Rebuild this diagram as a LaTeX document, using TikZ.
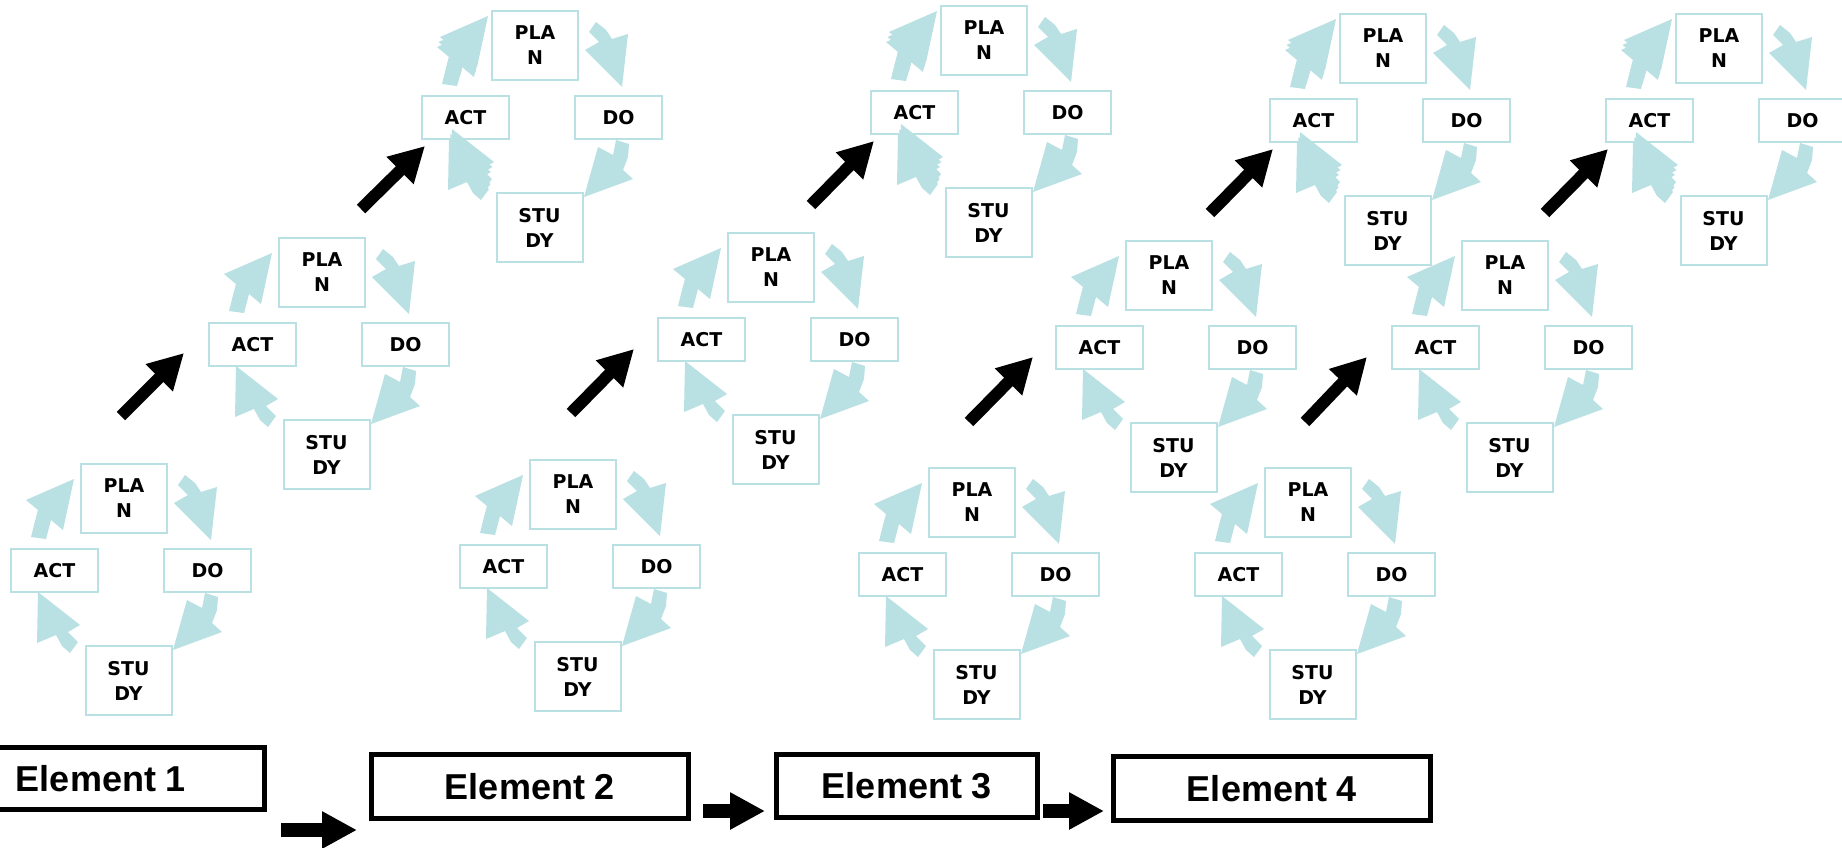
\documentclass[tikz,border=0pt]{standalone}
\usepackage{fontspec}
\setmainfont{DejaVu Sans}
\newfontfamily\elfont{Liberation Sans}
\usetikzlibrary{arrows.meta}
\definecolor{pdsablue}{RGB}{185,224,227}
\tikzset{
  cbox/.style={draw=pdsablue, line width=2pt, fill=white, inner sep=0pt, align=center,
    font=\fontsize{19}{25}\selectfont\bfseries},
  sqbox/.style={cbox, minimum width=86pt, minimum height=69pt},
  flatbox/.style={cbox, minimum width=87pt, minimum height=43pt},
  cyclearrow/.style={fill=pdsablue},
  elbox/.style={draw=black, line width=5pt, inner sep=0pt,
    font=\elfont\fontsize{36}{40}\selectfont\bfseries},
  bigarrow/.style={line width=12pt, -{Triangle[length=35pt,width=36pt]}},
  flatarrow/.style={line width=14pt, -{Triangle[length=35pt,width=35pt]}},
}
\newcommand\tlarrow{\fill[cyclearrow] (-49,74) -- (-45,58) -- (-42,47) -- (-54,37) -- (-6,16) -- (-17,67) -- (-29,57) -- (-34,76) -- cycle;}
\newcommand\trarrow{\fill[cyclearrow] (98,22) -- (105,12) -- (115,20) -- (121,29) -- (137,24) -- (131,77) -- (94,40) -- (108,32) -- cycle;}
\newcommand\brarrow{\fill[cyclearrow] (125,130) -- (138,134) -- (137,147) -- (132,160) -- (142,169) -- (93,187) -- (107,137) -- (122,145) -- cycle;}
\newcommand\blarrow{\fill[cyclearrow] (-10,190) -- (-2,179) -- (-12,169) -- (0,162) -- (-42,129) -- (-43,180) -- (-24,172) -- (-18,183) -- cycle;}
% #1 name, #2 x, #3 y, #4 jagged (0/1)
\newcommand\pdsacycle[4]{%
  \begin{scope}[shift={(#2,#3)}]
    \node[sqbox] (#1p) at (44,35.5) {PLA\\N};
    \node[flatbox] (#1a) at (-25.5,107.5) {ACT};
    \node[flatbox] (#1d) at (127.5,107.5) {DO};
    \node[sqbox] (#1s) at (48.5,217.5) {STU\\DY};
    \tlarrow \trarrow \brarrow \blarrow
    \ifnum#4=1
      \begin{scope}[shift={(1.5,-5)}]\tlarrow\blarrow\end{scope}
      \begin{scope}[shift={(3,-10)}]\tlarrow\blarrow\end{scope}
    \fi
  \end{scope}}
\begin{document}
\begin{tikzpicture}[x=1pt,y=-1pt]
\useasboundingbox (0,0) rectangle (1842,847);
\clip (0,0) rectangle (1842,847);
\fill[white] (0,0) rectangle (1842,847);
% cycles
\pdsacycle{A}{80}{463}{0}
\pdsacycle{B}{278}{237}{0}
\pdsacycle{C}{491}{10}{1}
\pdsacycle{D}{529}{459}{0}
\pdsacycle{E}{727}{232}{0}
\pdsacycle{F}{940}{5}{1}
\pdsacycle{G}{928}{467}{0}
\pdsacycle{H}{1125}{240}{0}
\pdsacycle{I}{1339}{13}{1}
\pdsacycle{J}{1264}{467}{0}
\pdsacycle{K}{1461}{240}{0}
\pdsacycle{L}{1675}{13}{1}
% diagonal arrows
\coordinate (t1) at (121,416); \coordinate (h1) at (184,353);
\coordinate (t2) at (361,209); \coordinate (h2) at (425,146);
\coordinate (t3) at (571,413); \coordinate (h3) at (634,349);
\coordinate (t4) at (811,205); \coordinate (h4) at (874,141);
\coordinate (t5) at (969,422); \coordinate (h5) at (1033,357);
\coordinate (t6) at (1210,213); \coordinate (h6) at (1273,149);
\coordinate (t7) at (1305,422); \coordinate (h7) at (1367,357);
\coordinate (t8) at (1545,213); \coordinate (h8) at (1608,149);
\foreach \i in {1,...,8} {\draw[bigarrow] (t\i) -- (h\i);}
% elements
\node[elbox, minimum width=327pt, minimum height=62pt] (e1) at (101,778.5) {Element 1};
\node[elbox, minimum width=317pt, minimum height=64pt] (e2) at (530,786.5) {Element 2};
\node[elbox, minimum width=261pt, minimum height=63pt] (e3) at (907,786) {Element 3};
\node[elbox, minimum width=317pt, minimum height=64pt] (e4) at (1272,788.5) {Element 4};
% horizontal arrows
\coordinate (f1) at (281,830); \coordinate (g1) at (357,830);
\coordinate (f2) at (703,811); \coordinate (g2) at (765,811);
\coordinate (f3) at (1043,811); \coordinate (g3) at (1104,811);
\foreach \i in {1,2,3} {\draw[flatarrow] (f\i) -- (g\i);}
\end{tikzpicture}
\end{document}
